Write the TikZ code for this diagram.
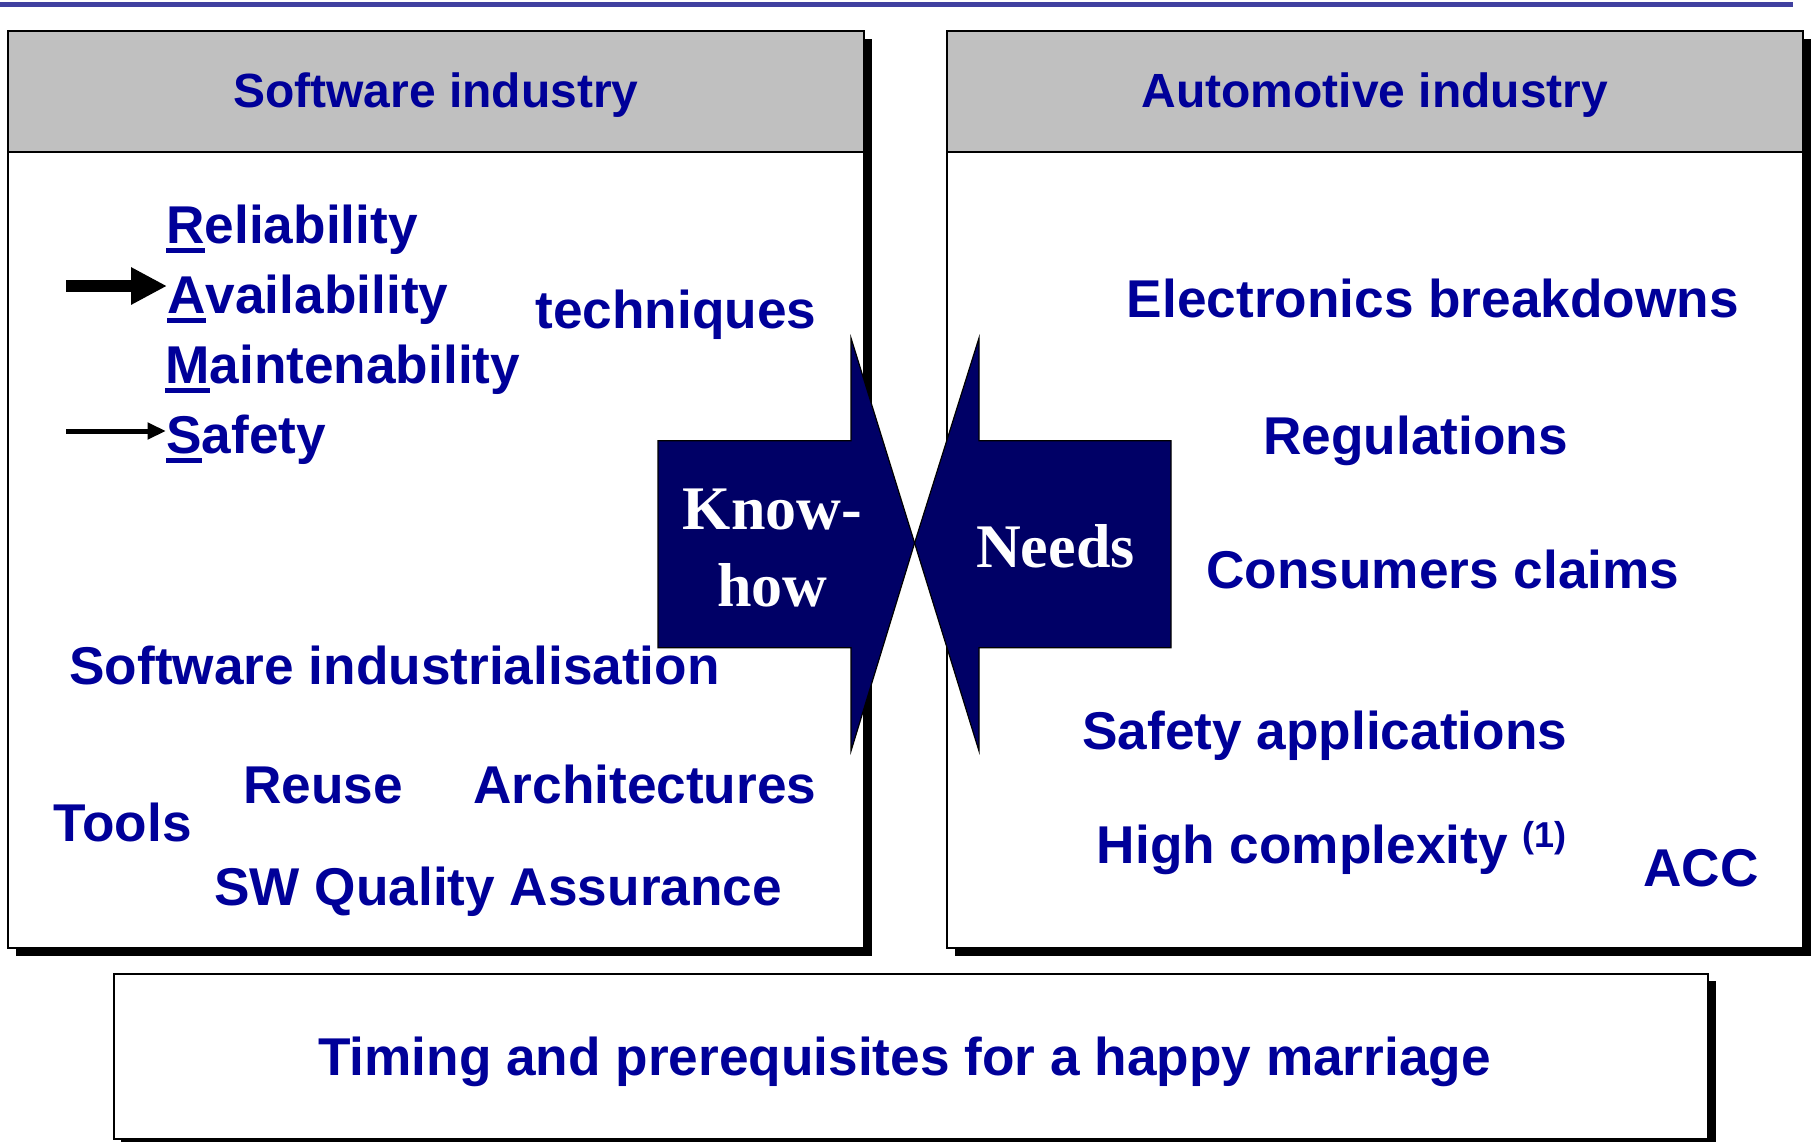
\documentclass[tikz,border=0pt]{standalone}
\usepackage{fontspec}
\setmainfont{Liberation Sans}
\newfontfamily\kserif{Liberation Serif}
\usetikzlibrary{arrows.meta}
\definecolor{txtblue}{RGB}{0,0,153}
\definecolor{arrnavy}{RGB}{0,0,102}
\definecolor{hdrgray}{RGB}{192,192,192}
\definecolor{toplinec}{RGB}{64,64,160}
\newsavebox\fubox
\newcommand\firstu[1]{\sbox\fubox{#1}\rlap{\rule[-5pt]{\wd\fubox}{2.5pt}}\usebox\fubox}
\begin{document}
\begin{tikzpicture}[x=0.5pt,y=-0.5pt,
  lbl/.style={font=\bfseries\fontsize{26.6}{30}\selectfont, text=txtblue, inner sep=0pt, anchor=base west},
  hdr/.style={font=\bfseries\fontsize{24}{28}\selectfont, text=txtblue, inner sep=0pt, anchor=base},
  wtxt/.style={font=\kserif\bfseries\fontsize{31}{36}\selectfont, text=white, inner sep=0pt, anchor=base},
  shadowbox/.style={fill=black},
  panel/.style={fill=white, draw=black, line width=0.8pt},
  headbox/.style={fill=hdrgray, draw=black, line width=1pt},
  bigarrow/.style={fill=arrnavy, draw=black, line width=0.6pt},
  thickarr/.style={line width=6.3pt, -{Triangle[length=18pt,width=17.5pt]}},
  thinarr/.style={line width=2.5pt, -{Triangle[length=9.25pt,width=8pt]}},
]
\useasboundingbox (0,0) rectangle (1812,1142);
\fill[white] (0,0) rectangle (1812,1142);
\draw[toplinec, line width=2.5pt] (0,4) -- (1793,4);

% left panel
\fill[shadowbox] (16,39) rectangle (872,956);
\draw[panel] (8,31) rectangle (864,948);
\draw[headbox] (8,31) rectangle (864,152);
\node[hdr] (hdrL) at (436,107) {Software industry};

% right panel
\fill[shadowbox] (955,39) rectangle (1811,956);
\draw[panel] (947,31) rectangle (1803,948);
\draw[headbox] (947,31) rectangle (1803,152);
\node[hdr] (hdrR) at (1375,107) {Automotive industry};

% bottom box
\fill[shadowbox] (121,981) rectangle (1716,1142);
\draw[panel] (114,974) rectangle (1708,1139);
\node[lbl, anchor=base] (goal) at (904.5,1075) {Timing and prerequisites for a happy marriage};

% big arrows
\draw[bigarrow] (658,440.7) -- (851,440.7) -- (851,338) -- (914.6,543) -- (851,751) -- (851,647.7) -- (658,647.7) -- cycle;
\draw[bigarrow] (1171,440.7) -- (979,440.7) -- (979,338) -- (914.6,543) -- (979,751) -- (979,647.7) -- (1171,647.7) -- cycle;
\node[wtxt] (know1) at (772.5,529) {Know-};
\node[wtxt] (know2) at (772.5,606) {how};
\node[wtxt] (needs) at (1055.4,567) {Needs};

% left texts
\node[lbl] (rel) at (166,243) {\firstu{R}eliability};
\node[lbl] (avail) at (167,313) {\firstu{A}vailability};
\node[lbl] (maint) at (165,383) {\firstu{M}aintenability};
\node[lbl] (safe) at (166,453) {\firstu{S}afety};
\node[lbl] (tech) at (535,328) {techniques};
\node[lbl] (swind) at (69,684) {Software industrialisation};
\node[lbl] (reuse) at (243,803) {Reuse};
\node[lbl] (arch) at (473,803) {Architectures};
\node[lbl] (tools) at (53.5,841) {Tools};
\node[lbl] (swqa) at (214,905) {SW Quality Assurance};

\coordinate (a1) at (66,286);
\coordinate (a2) at (66,431);
\draw[thickarr] (a1) -- (avail.west |- a1);
\draw[thinarr] (a2) -- (safe.west |- a2);

% right texts
\node[lbl] (elec) at (1126.5,317) {Electronics breakdowns};
\node[lbl] (regs) at (1263,454) {Regulations};
\node[lbl] (cons) at (1206,588) {Consumers claims};
\node[lbl] (safeapp) at (1082,749) {Safety applications};
\node[lbl] (highc) at (1096.5,863) {High complexity \raisebox{8pt}{\fontsize{18}{20}\selectfont(1)}};
\node[lbl] (acc) at (1643,886) {ACC};
\end{tikzpicture}
\end{document}
